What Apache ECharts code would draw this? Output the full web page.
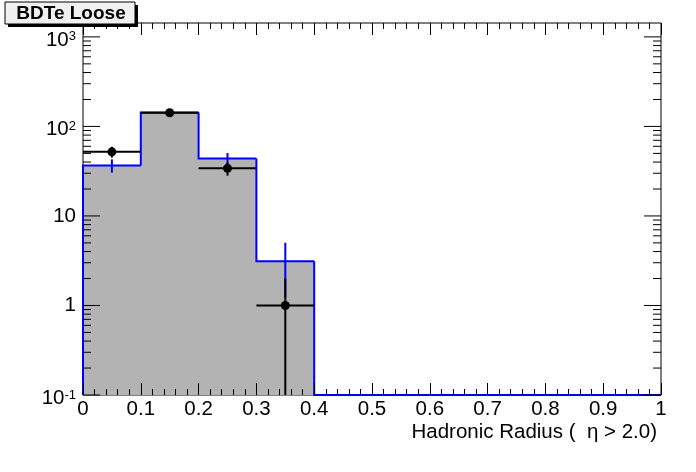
<!DOCTYPE html>
<html>
<head>
<meta charset="utf-8">
<script src="https://cdn.jsdelivr.net/npm/echarts@6/dist/echarts.min.js"></script>
<style>
html,body{margin:0;padding:0;background:#fff;}
#chart{width:696px;height:472px;}
</style>
</head>
<body>
<div id="chart"></div>
<script>
// ---- data ----
const binLow = [0, 0.1, 0.2, 0.3, 0.4, 0.5, 0.6, 0.7, 0.8, 0.9];
const binWidth = 0.1;
const mcValues = [36.7, 143, 43.9, 3.12, 0, 0, 0, 0, 0, 0];
const mcErrors = [6.2, 12, 6.6, 1.9, 0, 0, 0, 0, 0, 0];
const dataValues = [52, 142, 34, 1, 0, 0, 0, 0, 0, 0];
const dataErrors = [7.2, 11.9, 5.8, 1, 0, 0, 0, 0, 0, 0];
const yMajorTicks = [0.1, 1, 10, 100, 1000];
const yMinorTicks = [0.2,0.3,0.4,0.5,0.6,0.7,0.8,0.9, 2,3,4,5,6,7,8,9, 20,30,40,50,60,70,80,90, 200,300,400,500,600,700,800,900];
const yMin = 0.1, yMax = 1430;
const xMin = 0, xMax = 1, xInterval = 0.1;
const titleText = 'BDTe Loose';
const xTitle = 'Hadronic Radius (  \u03B7 > 2.0)';

const FONT = '"Liberation Sans", Arial, Helvetica, sans-serif';
const FS = 20.5;
const chart = echarts.init(document.getElementById('chart'), null, {renderer: 'canvas'});

const histData = binLow.map((x, i) => [x, x + binWidth, mcValues[i], i > 0 ? mcValues[i - 1] : 0, i === binLow.length - 1 ? 1 : 0]);
const mcErrData = binLow.map((x, i) => [x + binWidth / 2, mcValues[i], mcErrors[i]]);
const dataData = binLow.map((x, i) => [x, x + binWidth, dataValues[i], dataErrors[i]]);
const tickData = yMajorTicks.map(v => [0, v, 17]).concat(yMinorTicks.map(v => [0, v, 8]));

function yLabel(v) {
  const e = Math.round(Math.log10(v));
  if (Math.abs(Math.log10(v) - e) > 1e-6) return '';
  if (e === 0) return '{b|1}';
  if (e === 1) return '{b|10}';
  return '{bx|10}{e|' + e + '}';
}

const option = {
  backgroundColor: '#fff',
  animation: false,
  grid: {left: 83, right: 35, top: 23, bottom: 77, show: true, borderColor: '#000', borderWidth: 1, backgroundColor: 'transparent'},
  xAxis: [{
    type: 'value', min: xMin, max: xMax, interval: xInterval, z: 5,
    axisLine: {show: false},
    axisTick: {show: true, inside: true, length: 12, lineStyle: {color: '#000', width: 1}},
    minorTick: {show: true, splitNumber: 5, length: 6, lineStyle: {color: '#000', width: 1}},
    axisLabel: {color: '#000', fontSize: FS, fontFamily: FONT, margin: 4,
      formatter: v => (Math.abs(v) < 1e-9 ? '0' : (Math.abs(v - 1) < 1e-9 ? '1' : v.toFixed(1)))},
    splitLine: {show: false}
  }, {
    type: 'value', position: 'top', min: xMin, max: xMax, interval: xInterval, z: 5,
    axisLine: {show: false},
    axisTick: {show: true, inside: true, length: 12, lineStyle: {color: '#000', width: 1}},
    minorTick: {show: true, splitNumber: 5, length: 6, lineStyle: {color: '#000', width: 1}},
    axisLabel: {show: false},
    splitLine: {show: false}
  }],
  yAxis: [{
    type: 'log', logBase: 10, min: yMin, max: yMax,
    axisLine: {show: false},
    axisTick: {show: false},
    splitLine: {show: false},
    axisLabel: {color: '#000', margin: 7, formatter: yLabel,
      rich: {
        b: {fontSize: FS, fontFamily: FONT, color: '#000', lineHeight: 22},
        bx: {fontSize: FS, fontFamily: FONT, color: '#000', lineHeight: 22, padding: [6, 0, 0, 0]},
        e: {fontSize: 13, fontFamily: FONT, color: '#000', lineHeight: 13, verticalAlign: 'top', padding: [4.5, 0, 0, 0]}
      }}
  }],
  graphic: [
    {type: 'rect', shape: {x: 8, y: 5, width: 130, height: 22}, style: {fill: '#000'}, z: 10},
    {type: 'rect', shape: {x: 5, y: 2, width: 130, height: 22}, style: {fill: '#f0f0f0', stroke: '#000', lineWidth: 1}, z: 11},
    {type: 'text', x: 71, y: 14, z: 12, style: {text: titleText, font: 'bold 19px ' + FONT, fill: '#000', align: 'center', verticalAlign: 'middle'}},
    {type: 'text', x: 657, y: 432, z: 12, style: {text: xTitle, font: FS + 'px ' + FONT, fill: '#000', align: 'right', verticalAlign: 'middle'}}
  ],
  series: [
    {
      type: 'custom', name: 'mc', clip: false, data: histData,
      renderItem: function (params, api) {
        const lo = api.value(0), hi = api.value(1);
        const v = Math.max(api.value(2), yMin), pv = Math.max(api.value(3), yMin);
        const p0 = api.coord([lo, v]), p1 = api.coord([hi, v]);
        const b1 = api.coord([hi, yMin]);
        const pp = api.coord([lo, pv]);
        const children = [];
        if (v > yMin) {
          const xa = Math.round(p0[0]), xb = Math.round(p1[0]);
          children.push({type: 'rect', shape: {x: xa, y: p0[1], width: xb - xa, height: b1[1] - p0[1]}, style: {fill: '#b3b3b3'}});
        }
        const pts = [pp, p0, p1];
        if (api.value(4) === 1) pts.push(b1);
        children.push({type: 'polyline', shape: {points: pts}, style: {stroke: '#0000ff', lineWidth: 2, fill: null}});
        return {type: 'group', children: children};
      }
    },
    {
      type: 'custom', name: 'yticks', clip: false, data: tickData,
      renderItem: function (params, api) {
        const v = api.value(1), len = api.value(2);
        const p = api.coord([xMin, v]), q = api.coord([xMax, v]);
        return {type: 'group', children: [
          {type: 'line', shape: {x1: p[0], y1: p[1], x2: p[0] + len, y2: p[1]}, style: {stroke: '#000', lineWidth: 1}},
          {type: 'line', shape: {x1: q[0] - len, y1: q[1], x2: q[0], y2: q[1]}, style: {stroke: '#000', lineWidth: 1}}
        ]};
      }
    },
    {
      type: 'custom', name: 'mcerr', clip: false, data: mcErrData,
      renderItem: function (params, api) {
        const x = api.value(0), v = api.value(1), e = api.value(2);
        if (!(v > 0) || !(e > 0)) return null;
        const top = api.coord([x, v + e]), bot = api.coord([x, Math.max(v - e, yMin)]);
        return {type: 'line', shape: {x1: top[0], y1: top[1], x2: bot[0], y2: bot[1]}, style: {stroke: '#0000ff', lineWidth: 2}};
      }
    },
    {
      type: 'custom', name: 'data', clip: false, data: dataData,
      renderItem: function (params, api) {
        const lo = api.value(0), hi = api.value(1), v = api.value(2), e = api.value(3);
        if (!(v > 0)) return null;
        const c = api.coord([(lo + hi) / 2, v]);
        const l = api.coord([lo, v]), r = api.coord([hi, v]);
        const top = api.coord([(lo + hi) / 2, v + e]);
        const bot = api.coord([(lo + hi) / 2, Math.max(v - e, yMin)]);
        return {type: 'group', children: [
          {type: 'line', shape: {x1: l[0], y1: l[1], x2: r[0], y2: r[1]}, style: {stroke: '#000', lineWidth: 2}},
          {type: 'line', shape: {x1: top[0], y1: top[1], x2: bot[0], y2: bot[1]}, style: {stroke: '#000', lineWidth: 2}},
          {type: 'circle', shape: {cx: c[0], cy: c[1], r: 4.5}, style: {fill: '#000'}}
        ]};
      }
    }
  ]
};
chart.setOption(option);
</script>
</body>
</html>
